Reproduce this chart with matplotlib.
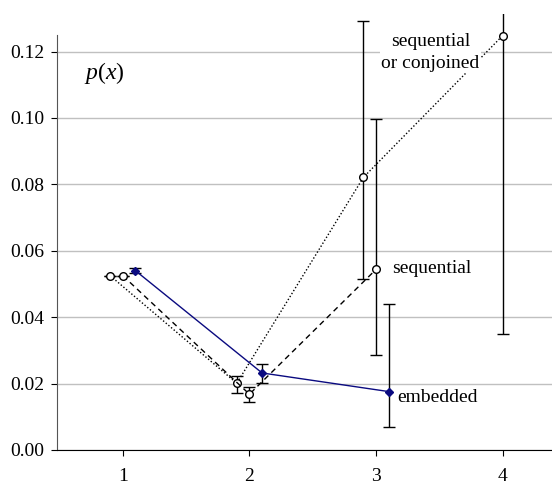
import matplotlib
matplotlib.use("Agg")
import matplotlib.pyplot as plt
from matplotlib.transforms import Bbox, TransformedBbox
import numpy as np

plt.rcParams['font.family'] = ['Liberation Serif', 'DejaVu Serif']
plt.rcParams['mathtext.fontset'] = 'custom'
plt.rcParams['mathtext.rm'] = 'Liberation Serif'
plt.rcParams['mathtext.it'] = 'Liberation Serif:italic'

# sequential or conjoined (dotted, open circles)
sc_x = [0.9, 1.9, 2.9, 4.0]
sc_y = [0.0525, 0.0201, 0.0821, 0.1248]
sc_lo = [0.0525, 0.0171, 0.0514, 0.0349]
sc_hi = [0.0525, 0.0222, 0.1293, 0.1400]

# sequential (dashed, open circles)
sq_x = [1.0, 2.0, 3.0]
sq_y = [0.0525, 0.0168, 0.0544]
sq_lo = [0.0525, 0.0144, 0.0286]
sq_hi = [0.0525, 0.0190, 0.0998]

# embedded (solid blue, filled diamonds)
em_x = [1.1, 2.1, 3.1]
em_y = [0.0540, 0.0232, 0.0176]
em_lo = [0.0533, 0.0201, 0.0069]
em_hi = [0.0547, 0.0259, 0.0441]

yticks = [0.00, 0.02, 0.04, 0.06, 0.08, 0.10, 0.12]
xticks = [1, 2, 3, 4]

fig = plt.figure(figsize=(5.52, 4.87), dpi=100)
ax = fig.add_axes([57/552, 37/487, (552-57)/552, 415/487])
clipbox = TransformedBbox(Bbox([[0, 0], [1, (487 - 14) / 487]]), fig.transFigure)

def eb(x, y, lo, hi, **kw):
    y = np.array(y); lo = np.array(lo); hi = np.array(hi)
    cont = ax.errorbar(x, y, yerr=[y - lo, hi - y], ecolor='black', elinewidth=1.0,
                       capsize=4, capthick=1.0, zorder=3, **kw)
    for ch in cont.get_children():
        ch.set_clip_on(True)
        ch.set_clip_path(None)
        ch.set_clip_box(clipbox)
    return cont

eb(sc_x, sc_y, sc_lo, sc_hi, color='black', ls=(0, (1, 1.5)), lw=1.0, marker='o',
   ms=5.5, mfc='white', mec='black', mew=1.0)
eb(sq_x, sq_y, sq_lo, sq_hi, color='black', ls=(0, (4, 3)), lw=1.0, marker='o',
   ms=5.5, mfc='white', mec='black', mew=1.0)
eb(em_x, em_y, em_lo, em_hi, color='#0a0a80', ls='-', lw=1.0, marker='D',
   ms=4.5, mfc='#0a0a80', mec='#0a0a80')

ax.set_xlim(0.48, 4.39)
ax.set_ylim(0, 0.125)
ax.set_yticks(yticks)
ax.set_yticklabels([f"{v:.2f}" for v in yticks])
ax.set_xticks(xticks)
ax.set_xticklabels([str(v) for v in xticks])
ax.yaxis.grid(True, color='#c0c0c0', lw=1.0)
ax.set_axisbelow(True)
for s in ['top', 'right']:
    ax.spines[s].set_visible(False)
ax.spines['left'].set_color('#555555')
ax.spines['bottom'].set_color('black')
ax.tick_params(axis='both', labelsize=14, direction='out', length=4, color='black')
ax.tick_params(axis='y', pad=5)
ax.tick_params(axis='x', pad=9)

ax.text(0.85, 0.1135, r'$p(x)$', fontsize=17, ha='center', va='center')
ax.text(3.43, 0.1197, 'sequential\nor conjoined', fontsize=14, ha='center', va='center',
        linespacing=1.35, zorder=5,
        bbox=dict(boxstyle='square,pad=0.05', fc='white', ec='none'))
ax.text(3.13, 0.0548, 'sequential', fontsize=14, ha='left', va='center')
ax.text(3.17, 0.0157, 'embedded', fontsize=14, ha='left', va='center')

fig.savefig('out.png', dpi=100)
